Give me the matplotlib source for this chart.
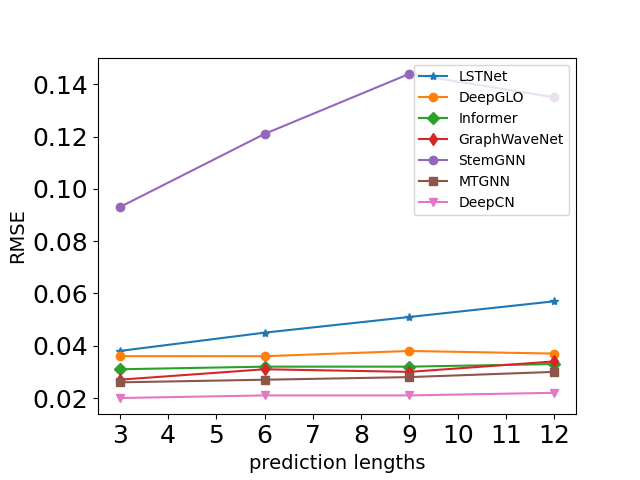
import matplotlib
matplotlib.use("Agg")
import matplotlib.pyplot as plt

lengths = [3, 6, 9, 12]
lstnet = [0.038, 0.045, 0.051, 0.057]
deepglo = [0.036, 0.036, 0.038, 0.037]
informer = [0.031, 0.032, 0.032, 0.033]
graphwavenet = [0.027, 0.031, 0.030, 0.034]
stemgnn = [0.093, 0.121, 0.144, 0.135]
mtgnn = [0.026, 0.027, 0.028, 0.030]
deepcn = [0.020, 0.021, 0.021, 0.022]

plt.figure(figsize=(6.4, 4.8), dpi=100)
plt.subplots_adjust(left=0.153, bottom=0.137, right=0.9, top=0.88)
plt.plot(lengths, lstnet, marker="*", label="LSTNet")
plt.plot(lengths, deepglo, marker="o", label="DeepGLO")
plt.plot(lengths, informer, marker="D", label="Informer")
plt.plot(lengths, graphwavenet, marker="d", label="GraphWaveNet")
plt.plot(lengths, stemgnn, marker="o", label="StemGNN")
plt.plot(lengths, mtgnn, marker="s", label="MTGNN")
plt.plot(lengths, deepcn, marker="v", label="DeepCN")

plt.xticks(range(3, 13), fontsize=18)
plt.yticks(fontsize=18)
plt.xlabel("prediction lengths", fontsize=14)
plt.ylabel("RMSE", fontsize=14)
plt.legend(loc="upper right", fontsize=10)
plt.savefig("out.png")
